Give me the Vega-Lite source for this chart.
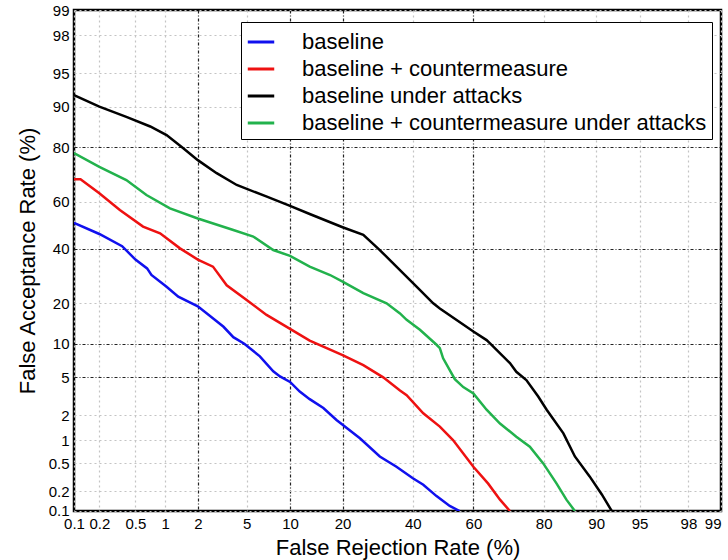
{
  "$schema": "https://vega.github.io/schema/vega-lite/v6.json",
  "width": 647,
  "height": 501,
  "autosize": {"type": "none"},
  "padding": {"left": 74, "top": 10, "right": 7, "bottom": 49},
  "background": "white",
  "config": {
    "font": "Liberation Sans",
    "view": {"stroke": "black", "strokeWidth": 2.5},
    "axis": {
      "labelFont": "Liberation Sans",
      "titleFont": "Liberation Sans",
      "labelFontSize": 15,
      "titleFontSize": 22,
      "titleFontWeight": "normal",
      "labelColor": "black",
      "titleColor": "black",
      "ticks": false,
      "domain": false,
      "labelFlush": false,
      "labelOverlap": false,
      "labelPadding": 5
    }
  },
  "data": {
    "values": [
      {"series": "baseline", "frr": 0.1, "far": 51},
      {"series": "baseline", "frr": 0.2, "far": 46.2},
      {"series": "baseline", "frr": 0.36, "far": 41},
      {"series": "baseline", "frr": 0.5, "far": 35.5},
      {"series": "baseline", "frr": 0.66, "far": 32},
      {"series": "baseline", "frr": 0.73, "far": 29.5},
      {"series": "baseline", "frr": 1.03, "far": 25.3},
      {"series": "baseline", "frr": 1.33, "far": 22},
      {"series": "baseline", "frr": 2, "far": 19},
      {"series": "baseline", "frr": 3.3, "far": 13.6},
      {"series": "baseline", "frr": 3.95, "far": 11.3},
      {"series": "baseline", "frr": 4.8, "far": 10},
      {"series": "baseline", "frr": 6.25, "far": 7.8},
      {"series": "baseline", "frr": 7.75, "far": 5.7},
      {"series": "baseline", "frr": 8.6, "far": 5.1},
      {"series": "baseline", "frr": 10, "far": 4.5},
      {"series": "baseline", "frr": 11.5, "far": 3.6},
      {"series": "baseline", "frr": 13.2, "far": 3.0},
      {"series": "baseline", "frr": 15.8, "far": 2.4},
      {"series": "baseline", "frr": 18.6, "far": 1.76},
      {"series": "baseline", "frr": 20, "far": 1.55},
      {"series": "baseline", "frr": 24.3, "far": 1.06},
      {"series": "baseline", "frr": 29.8, "far": 0.62},
      {"series": "baseline", "frr": 34.8, "far": 0.45},
      {"series": "baseline", "frr": 40, "far": 0.31},
      {"series": "baseline", "frr": 43.4, "far": 0.25},
      {"series": "baseline", "frr": 47.8, "far": 0.17},
      {"series": "baseline", "frr": 52.2, "far": 0.12},
      {"series": "baseline", "frr": 55.5, "far": 0.1},

      {"series": "baseline + countermeasure", "frr": 0.1, "far": 69},
      {"series": "baseline + countermeasure", "frr": 0.12, "far": 69},
      {"series": "baseline + countermeasure", "frr": 0.2, "far": 63.5},
      {"series": "baseline + countermeasure", "frr": 0.34, "far": 56.5},
      {"series": "baseline + countermeasure", "frr": 0.6, "far": 49.4},
      {"series": "baseline + countermeasure", "frr": 0.89, "far": 46.5},
      {"series": "baseline + countermeasure", "frr": 1.38, "far": 40.1},
      {"series": "baseline + countermeasure", "frr": 2.0, "far": 35.5},
      {"series": "baseline + countermeasure", "frr": 2.7, "far": 32.7},
      {"series": "baseline + countermeasure", "frr": 3.5, "far": 25.8},
      {"series": "baseline + countermeasure", "frr": 5, "far": 20.9},
      {"series": "baseline + countermeasure", "frr": 6.97, "far": 16.6},
      {"series": "baseline + countermeasure", "frr": 10, "far": 13.1},
      {"series": "baseline + countermeasure", "frr": 13.2, "far": 10.6},
      {"series": "baseline + countermeasure", "frr": 20, "far": 8.0},
      {"series": "baseline + countermeasure", "frr": 25.2, "far": 6.5},
      {"series": "baseline + countermeasure", "frr": 30.8, "far": 5.0},
      {"series": "baseline + countermeasure", "frr": 35.9, "far": 3.7},
      {"series": "baseline + countermeasure", "frr": 38, "far": 3.3},
      {"series": "baseline + countermeasure", "frr": 43.4, "far": 2.1},
      {"series": "baseline + countermeasure", "frr": 48.9, "far": 1.47},
      {"series": "baseline + countermeasure", "frr": 53.3, "far": 1.01},
      {"series": "baseline + countermeasure", "frr": 56.7, "far": 0.68},
      {"series": "baseline + countermeasure", "frr": 60, "far": 0.45},
      {"series": "baseline + countermeasure", "frr": 64.7, "far": 0.26},
      {"series": "baseline + countermeasure", "frr": 68.3, "far": 0.15},
      {"series": "baseline + countermeasure", "frr": 71.2, "far": 0.1},

      {"series": "baseline under attacks", "frr": 0.1, "far": 92},
      {"series": "baseline under attacks", "frr": 0.2, "far": 90},
      {"series": "baseline under attacks", "frr": 0.4, "far": 87.9},
      {"series": "baseline under attacks", "frr": 0.71, "far": 85.7},
      {"series": "baseline under attacks", "frr": 1.03, "far": 83.5},
      {"series": "baseline under attacks", "frr": 1.48, "far": 79.7},
      {"series": "baseline under attacks", "frr": 2, "far": 75.9},
      {"series": "baseline under attacks", "frr": 2.9, "far": 71.3},
      {"series": "baseline under attacks", "frr": 4.2, "far": 66.8},
      {"series": "baseline under attacks", "frr": 7, "far": 62.1},
      {"series": "baseline under attacks", "frr": 10, "far": 58.3},
      {"series": "baseline under attacks", "frr": 13.2, "far": 54.8},
      {"series": "baseline under attacks", "frr": 20, "far": 49.1},
      {"series": "baseline under attacks", "frr": 25.2, "far": 45.8},
      {"series": "baseline under attacks", "frr": 29.8, "far": 39.4},
      {"series": "baseline under attacks", "frr": 34.8, "far": 32.7},
      {"series": "baseline under attacks", "frr": 41.2, "far": 25.3},
      {"series": "baseline under attacks", "frr": 46.7, "far": 19.9},
      {"series": "baseline under attacks", "frr": 48.9, "far": 18.4},
      {"series": "baseline under attacks", "frr": 60, "far": 12.5},
      {"series": "baseline under attacks", "frr": 64.2, "far": 10.7},
      {"series": "baseline under attacks", "frr": 65.2, "far": 10.1},
      {"series": "baseline under attacks", "frr": 71.2, "far": 6.8},
      {"series": "baseline under attacks", "frr": 73, "far": 5.65},
      {"series": "baseline under attacks", "frr": 75.7, "far": 4.7},
      {"series": "baseline under attacks", "frr": 78.7, "far": 3.2},
      {"series": "baseline under attacks", "frr": 80.7, "far": 2.3},
      {"series": "baseline under attacks", "frr": 84.3, "far": 1.22},
      {"series": "baseline under attacks", "frr": 86.5, "far": 0.62},
      {"series": "baseline under attacks", "frr": 89, "far": 0.33},
      {"series": "baseline under attacks", "frr": 90.8, "far": 0.18},
      {"series": "baseline under attacks", "frr": 92.1, "far": 0.1},

      {"series": "baseline + countermeasure under attacks", "frr": 0.1, "far": 78.2},
      {"series": "baseline + countermeasure under attacks", "frr": 0.2, "far": 73.6},
      {"series": "baseline + countermeasure under attacks", "frr": 0.4, "far": 68.7},
      {"series": "baseline + countermeasure under attacks", "frr": 0.65, "far": 62.8},
      {"series": "baseline + countermeasure under attacks", "frr": 1.11, "far": 57.2},
      {"series": "baseline + countermeasure under attacks", "frr": 2, "far": 52.9},
      {"series": "baseline + countermeasure under attacks", "frr": 3.95, "far": 47.9},
      {"series": "baseline + countermeasure under attacks", "frr": 5.6, "far": 45.1},
      {"series": "baseline + countermeasure under attacks", "frr": 7.75, "far": 39.4},
      {"series": "baseline + countermeasure under attacks", "frr": 10, "far": 37},
      {"series": "baseline + countermeasure under attacks", "frr": 13.2, "far": 32.7},
      {"series": "baseline + countermeasure under attacks", "frr": 17.2, "far": 29.5},
      {"series": "baseline + countermeasure under attacks", "frr": 20, "far": 27.1},
      {"series": "baseline + countermeasure under attacks", "frr": 25.2, "far": 23.1},
      {"series": "baseline + countermeasure under attacks", "frr": 31.8, "far": 19.9},
      {"series": "baseline + countermeasure under attacks", "frr": 35.9, "far": 17},
      {"series": "baseline + countermeasure under attacks", "frr": 38, "far": 15.3},
      {"series": "baseline + countermeasure under attacks", "frr": 42.3, "far": 12.9},
      {"series": "baseline + countermeasure under attacks", "frr": 47.8, "far": 9.8},
      {"series": "baseline + countermeasure under attacks", "frr": 48.9, "far": 9.2},
      {"series": "baseline + countermeasure under attacks", "frr": 50, "far": 7.5},
      {"series": "baseline + countermeasure under attacks", "frr": 53.9, "far": 4.8},
      {"series": "baseline + countermeasure under attacks", "frr": 56.7, "far": 4.0},
      {"series": "baseline + countermeasure under attacks", "frr": 60, "far": 3.45},
      {"series": "baseline + countermeasure under attacks", "frr": 64.2, "far": 2.3},
      {"series": "baseline + countermeasure under attacks", "frr": 68.3, "far": 1.6},
      {"series": "baseline + countermeasure under attacks", "frr": 73, "far": 1.11},
      {"series": "baseline + countermeasure under attacks", "frr": 76.6, "far": 0.83},
      {"series": "baseline + countermeasure under attacks", "frr": 79.9, "far": 0.5},
      {"series": "baseline + countermeasure under attacks", "frr": 82.9, "far": 0.26},
      {"series": "baseline + countermeasure under attacks", "frr": 84.9, "far": 0.15},
      {"series": "baseline + countermeasure under attacks", "frr": 86.5, "far": 0.1}
    ]
  },
  "transform": [
    {"calculate": "quantileNormal(datum.frr / 100)", "as": "px"},
    {"calculate": "quantileNormal(datum.far / 100)", "as": "py"}
  ],
  "mark": {"type": "line", "strokeWidth": 2.5, "clip": true},
  "encoding": {
    "x": {
      "field": "px",
      "type": "quantitative",
      "scale": {"domain": [-3.0902323, 2.3263479], "nice": false, "zero": false},
      "axis": {
        "title": "False Rejection Rate (%)",
        "values": [-3.0902, -2.8782, -2.5758, -2.3263, -2.0537, -1.6449, -1.2816, -0.8416, -0.2533, 0.2533, 0.8416, 1.2816, 1.6449, 2.0537, 2.3263],
        "labelExpr": "'' + round(cumulativeNormal(datum.value) * 1000) / 10",
        "labelAlign": {"condition": {"test": "datum.value > 2.3", "value": "right"}, "value": "center"},
        "labelDx": {"condition": {"test": "datum.value > 2.3", "value": 2}, "value": 0},
        "titlePadding": 6,
        "gridColor": {"condition": {"test": "indexof([-2.0537, -1.2816, -0.8416, 0.2533], datum.value) >= 0", "value": "#222222"}, "value": "#c4c4c4"},
        "gridDash": {"condition": {"test": "indexof([-2.0537, -1.2816, -0.8416, 0.2533], datum.value) >= 0", "value": [3, 2, 1, 2]}, "value": [2, 3]},
        "gridWidth": 1.2
      }
    },
    "y": {
      "field": "py",
      "type": "quantitative",
      "scale": {"domain": [-3.0902323, 2.3263479], "nice": false, "zero": false},
      "axis": {
        "title": "False Acceptance Rate (%)",
        "values": [-3.0902, -2.8782, -2.5758, -2.3263, -2.0537, -1.6449, -1.2816, -0.8416, -0.2533, 0.2533, 0.8416, 1.2816, 1.6449, 2.0537, 2.3263],
        "labelExpr": "'' + round(cumulativeNormal(datum.value) * 1000) / 10",
        "titlePadding": 9,
        "gridColor": {"condition": {"test": "indexof([0.8416, -0.2533, -1.2816, -1.6449], datum.value) >= 0", "value": "#222222"}, "value": "#c4c4c4"},
        "gridDash": {"condition": {"test": "indexof([0.8416, -0.2533, -1.2816, -1.6449], datum.value) >= 0", "value": [3, 2, 1, 2]}, "value": [2, 3]},
        "gridWidth": 1.2
      }
    },
    "color": {
      "field": "series",
      "type": "nominal",
      "scale": {
        "domain": ["baseline", "baseline + countermeasure", "baseline under attacks", "baseline + countermeasure under attacks"],
        "range": ["#1010ee", "#ee1111", "#000000", "#22b24c"]
      },
      "legend": {
        "title": null,
        "orient": "none",
        "legendX": 167,
        "legendY": 12,
        "strokeColor": "black",
        "fillColor": "white",
        "padding": 5,
        "symbolType": "stroke",
        "symbolSize": 700,
        "symbolStrokeWidth": 3,
        "labelFont": "Liberation Sans",
        "labelFontSize": 22,
        "labelColor": "black",
        "labelOffset": 26,
        "rowPadding": 1,
        "labelLimit": 600
      }
    }
  }
}
